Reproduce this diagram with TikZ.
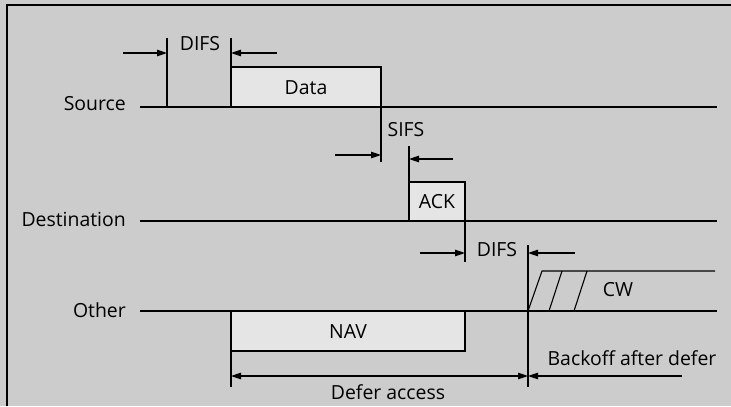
\documentclass[tikz,border=0pt]{standalone}
\usepackage{fontspec}
\setmainfont{Open Sans}
\usetikzlibrary{arrows.meta}
\definecolor{bgc}{gray}{0.80}
\definecolor{boxc}{gray}{0.90}
\begin{document}
\begin{tikzpicture}[x=1bp,y=-1bp,
  ln/.style={line width=1.1bp,black},
  arr/.style={ln,-{Triangle[length=10bp,width=6.5bp]}},
  lbl/.style={font=\fontsize{19.5}{19.5}\selectfont,inner sep=0pt},
  rowlbl/.style={lbl,anchor=east},
  slot/.style={ln,fill=boxc}]
\useasboundingbox (0,0) rectangle (731,406);
\fill[bgc] (0,0) rectangle (731,406);
\draw[ln] (7,406) -- (7,5) -- (731,5);
% timelines
\coordinate (s0) at (140,107); \coordinate (s1) at (717,107);
\coordinate (d0) at (140,221); \coordinate (d1) at (717,221);
\coordinate (o0) at (140,311); \coordinate (o1) at (717,311);
\node[rowlbl] (src) at (126,104) {Source};
\node[rowlbl] (dst) at (126,219) {Destination};
\node[rowlbl] (oth) at (126,310) {Other};
% boxes
\draw[slot] (231,107) rectangle (381,67);
\node[lbl] (data) at (306,88) {Data};
\draw[slot] (409,221) rectangle (465,182);
\node[lbl] (ack) at (437,202) {ACK};
\draw[slot] (231,311) rectangle (465,351);
\node[lbl] (nav) at (348,332) {NAV};
\draw[ln] (s0) -- (s1);
\draw[ln] (d0) -- (d1);
\draw[ln] (o0) -- (o1);
% DIFS 1
\coordinate (a1) at (167,38); \coordinate (a2) at (167,107);
\coordinate (b1) at (231,38); \coordinate (b2) at (231,67);
\draw[ln] (a1) -- (a2);
\draw[ln] (b1) -- (b2);
\node[lbl] (difs1) at (200,44) {DIFS};
\coordinate (a3) at (123,53); \coordinate (a4) at (167,53);
\coordinate (b3) at (277,53); \coordinate (b4) at (231,53);
\draw[arr] (a3) -- (a4);
\draw[arr] (b3) -- (b4);
% SIFS
\coordinate (c1) at (381,107); \coordinate (c2) at (381,162);
\coordinate (e1) at (409,146); \coordinate (e2) at (409,182);
\draw[ln] (c1) -- (c2);
\draw[ln] (e1) -- (e2);
\node[lbl] (sifs) at (406,130) {SIFS};
\coordinate (c3) at (335,155); \coordinate (c4) at (381,155);
\coordinate (e3) at (453,159); \coordinate (e4) at (409,159);
\draw[arr] (c3) -- (c4);
\draw[arr] (e3) -- (e4);
% DIFS 2
\coordinate (f1) at (465,221); \coordinate (f2) at (465,262);
\coordinate (g1) at (528,245); \coordinate (g2) at (528,387);
\draw[ln] (f1) -- (f2);
\draw[ln] (g1) -- (g2);
\node[lbl] (difs2) at (497,250) {DIFS};
\coordinate (f3) at (420,253); \coordinate (f4) at (465,253);
\coordinate (g3) at (575,253); \coordinate (g4) at (528,253);
\draw[arr] (f3) -- (f4);
\draw[arr] (g3) -- (g4);
% CW
\coordinate (cwt0) at (542,271); \coordinate (cwt1) at (715,271);
\draw[ln] (528,311) -- (cwt0) -- (cwt1);
\draw[ln] (549,311) -- (562,271);
\draw[ln] (574,311) -- (587,271);
\node[lbl] (cw) at (618,290) {CW};
% defer
\coordinate (h1) at (231,351); \coordinate (h2) at (231,387);
\draw[ln] (h1) -- (h2);
\coordinate (dl) at (231,376); \coordinate (dr) at (528,376);
\draw[ln,{Triangle[length=10bp,width=6.5bp]}-{Triangle[length=10bp,width=6.5bp]}] (dl) -- (dr);
\node[lbl,anchor=base] (defer) at (388,399) {Defer access};
\coordinate (k3) at (682,376);
\draw[arr] (k3) -- (dr);
\node[lbl] (back) at (632,358) {Backoff after defer};
\end{tikzpicture}
\end{document}
